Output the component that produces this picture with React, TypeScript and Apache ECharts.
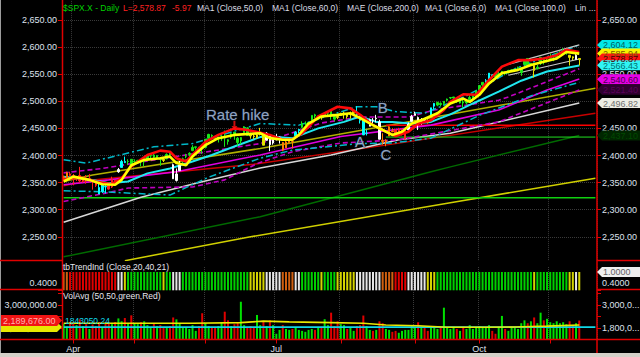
import React, { useEffect, useRef } from 'react';
import * as echarts from 'echarts';

// ---------- axis / categories ----------
const SLOTS = 166; // trading-day slots (161 bars + right padding)
const CATEGORIES = Array.from({ length: SLOTS }, (_, i) => String(i));
const MONTH_STARTS = [3, 22, 44, 66, 86, 109, 129, 151];
const QUARTER_LABELS: Record<number, string> = { 3: 'Apr', 66: 'Jul', 129: 'Oct' };

// ---------- price bars ($SPX.X daily, Mar 29 .. Nov 14) ----------
const OPEN = [2357,2359,2366,2363,2357,2363,2353,2356,2358,2353,2352,2341,2333,2343,2347,2342,2354,2370,2378,2389,2389,2393,2389,2390,2389,2389,2392,2400,2401,2397,2393,2393,2394,2405,2383,2354,2372,2388,2398,2402,2409,2415,2414,2415,2415,2432,2437,2434,2432,2432,2436,2426,2434,2443,2424,2427,2442,2451,2439,2436,2433,2443,2437,2428,2437,2430,2431,2430,2424,2414,2424,2426,2436,2446,2452,2459,2455,2464,2475,2468,2473,2472,2479,2482,2467,2472,2474,2478,2477,2476,2478,2480,2465,2465,2441,2454,2465,2469,2462,2428,2425,2436,2445,2447,2447,2447,2431,2447,2463,2474,2470,2463,2468,2462,2474,2491,2493,2494,2496,2502,2506,2506,2505,2497,2499,2501,2503,2504,2511,2521,2530,2534,2540,2547,2551,2548,2551,2552,2557,2556,2558,2563,2553,2568,2579,2570,2566,2563,2570,2577,2575,2583,2577,2581,2588,2592,2590,2581,2580,2577,2577];
const HIGH = [2363,2370,2370,2366,2362,2379,2361,2364,2366,2356,2353,2348,2349,2345,2350,2361,2355,2377,2392,2398,2393,2393,2393,2392,2390,2391,2399,2404,2404,2400,2395,2395,2404,2405,2385,2376,2390,2396,2403,2406,2419,2416,2416,2415,2430,2440,2439,2436,2435,2439,2446,2430,2441,2443,2434,2434,2454,2452,2442,2441,2442,2451,2441,2443,2437,2430,2440,2435,2425,2427,2432,2430,2445,2449,2463,2463,2461,2474,2477,2473,2474,2479,2481,2485,2473,2474,2479,2481,2477,2481,2481,2491,2475,2466,2448,2468,2469,2475,2466,2441,2430,2454,2450,2449,2451,2450,2449,2461,2475,2481,2472,2469,2469,2467,2488,2497,2499,2498,2500,2505,2508,2508,2507,2503,2503,2503,2511,2511,2520,2530,2535,2541,2552,2550,2552,2555,2556,2555,2558,2559,2561,2564,2563,2576,2579,2570,2567,2567,2582,2580,2578,2588,2582,2588,2593,2598,2595,2585,2583,2587,2579];
const LOW = [2354,2358,2361,2345,2353,2350,2350,2348,2352,2337,2342,2329,2331,2330,2337,2340,2345,2368,2378,2386,2383,2382,2383,2386,2380,2380,2390,2393,2393,2393,2381,2388,2393,2396,2357,2352,2372,2386,2395,2396,2408,2411,2408,2403,2413,2427,2434,2428,2424,2427,2416,2420,2431,2429,2418,2421,2442,2437,2431,2430,2431,2437,2419,2428,2408,2420,2428,2422,2408,2414,2422,2413,2436,2441,2450,2456,2452,2464,2468,2465,2466,2472,2474,2466,2463,2467,2473,2468,2468,2468,2476,2471,2459,2438,2437,2454,2458,2461,2430,2420,2417,2436,2443,2436,2442,2437,2429,2444,2463,2474,2447,2457,2462,2459,2474,2485,2491,2491,2493,2500,2504,2497,2497,2496,2489,2494,2497,2503,2508,2520,2528,2533,2538,2545,2544,2543,2548,2548,2551,2554,2555,2559,2547,2566,2564,2565,2544,2559,2567,2568,2572,2578,2574,2577,2586,2585,2586,2566,2576,2577,2566];
const CLOSE = [2361,2368,2363,2359,2360,2353,2357,2356,2357,2354,2345,2329,2349,2342,2338,2356,2349,2374,2389,2387,2389,2384,2388,2391,2388,2390,2399,2399,2397,2400,2394,2391,2402,2401,2357,2366,2382,2394,2398,2404,2415,2416,2413,2412,2430,2439,2436,2429,2433,2434,2432,2429,2440,2438,2432,2433,2453,2437,2436,2435,2438,2439,2419,2441,2420,2423,2429,2433,2410,2425,2427,2426,2443,2448,2459,2459,2461,2474,2473,2473,2470,2477,2478,2475,2472,2470,2476,2478,2472,2477,2481,2475,2474,2438,2441,2466,2465,2468,2430,2426,2428,2453,2444,2439,2443,2444,2446,2458,2472,2477,2458,2466,2465,2461,2488,2496,2498,2496,2500,2504,2507,2508,2501,2502,2497,2497,2507,2510,2519,2529,2535,2538,2552,2549,2545,2551,2555,2551,2553,2558,2559,2561,2562,2575,2565,2569,2557,2560,2581,2573,2575,2579,2580,2588,2591,2591,2594,2585,2582,2585,2579];

// trend paint-bar colour runs (tbTrendInd), one letter per bar
const TREND_RUNS: [string, number][] = [['o',2],['r',15],['w',2],['y',1],['g',11],['y',1],['g',2],['w',3],['g',21],['y',5],['w',5],['o',4],['w',2],['g',6],['y',1],['g',4],['y',6],['w',8],['o',4],['r',4],['w',6],['y',3],['g',30],['y',1],['g',10],['y',2],['w',1],['y',1]];
const CYAN_BARS = [11,12,13,18,19,72,73,91,92,93,94,114,115,131,132,133];

// volume (thousands)
const VOLUME_K = [2010,1880,2100,2080,1950,2250,1900,2000,1750,1980,1900,2100,1850,2050,2120,2000,2110,2300,2150,2320,2050,2460,2050,2000,2100,2150,1950,1850,2050,1900,1950,1850,1800,1900,2350,2250,2050,1800,1850,1750,1950,1650,1900,2570,2050,1900,1800,1850,1900,2100,2650,2200,1900,2000,2100,3170,1950,1850,1900,1850,2480,1950,2150,1900,2200,1950,1500,1700,1950,1750,1700,1750,1850,1700,1650,1600,1700,1750,1700,1800,1850,2260,1950,2600,1900,2150,2000,1950,1750,1800,1650,1900,1950,2450,1900,1700,1650,1700,2150,2050,1750,1700,1600,1650,1550,1650,1700,1700,1950,1800,2100,1850,1800,1650,1900,1850,1750,1800,2860,1800,1750,1850,1750,1650,1800,1750,1950,1750,1850,1900,1800,1850,1950,1650,1500,1800,2430,1750,1650,1800,1850,1750,2050,2200,2050,2150,2350,2050,2600,2200,2280,2100,2050,2150,2050,2100,2000,2150,1900,2050,2190];
const VOL_AVG_K: [number, number][] = [[0,2050],[40,2050],[55,2080],[62,2160],[70,2120],[83,2080],[93,2050],[100,1960],[110,1920],[119,1840],[131,1840],[140,1850],[150,1900],[160,1960]];
const VOL_REF_LEVEL = 1843050.24;

// ---------- indicator lines: [bar index, value] ----------
const MA_FAST_YELLOW: [number, number][] = [[0,2352],[3,2361],[8,2355],[12,2347],[16,2346],[18,2355],[21,2382],[25,2392],[30,2395],[33,2398],[35,2386],[38,2382],[40,2398],[44,2419],[48,2432],[53,2438],[61,2441],[64,2432],[68,2429],[71,2429],[73,2438],[76,2459],[80,2472],[85,2475],[89,2478],[92,2469],[96,2456],[99,2447],[102,2438],[105,2444],[108,2459],[111,2465],[116,2478],[120,2496],[124,2505],[126,2499],[129,2512],[132,2533],[136,2552],[141,2558],[145,2567],[149,2573],[153,2579],[156,2591],[160,2588]];
const MA_FAST_RED: [number, number][] = [[0,2356],[5,2360],[10,2352],[15,2347],[18,2358],[21,2380],[26,2401],[30,2409],[33,2407],[35,2395],[38,2389],[40,2401],[44,2425],[48,2438],[53,2450],[57,2447],[61,2442],[64,2438],[68,2429],[71,2430],[74,2441],[79,2472],[85,2490],[89,2487],[92,2475],[96,2456],[100,2444],[103,2436],[107,2444],[110,2459],[114,2465],[118,2484],[120,2499],[124,2513],[128,2512],[132,2539],[136,2564],[141,2576],[145,2576],[149,2579],[153,2585],[156,2595],[160,2591]];
const MA_CYAN: [number, number][] = [[0,2361],[9,2355],[14,2349],[20,2352],[26,2367],[33,2376],[40,2389],[46,2401],[54,2419],[61,2434],[64,2435],[71,2432],[79,2450],[87,2462],[92,2472],[97,2462],[102,2462],[108,2459],[114,2462],[120,2476],[127,2496],[135,2518],[142,2538],[150,2555],[160,2566]];
const CYAN_UPPER: [number, number][] = [[0,2392],[7,2386],[28,2416],[40,2422],[61,2459],[73,2456],[91,2490],[97,2490],[103,2481],[112,2478],[125,2510],[140,2560],[160,2604]];
const CYAN_LOWER: [number, number][] = [[0,2335],[12,2333],[33,2327],[45,2360],[61,2395],[71,2410],[92,2422],[102,2423],[114,2432],[129,2474],[145,2510],[160,2535]];
const MA_MAGENTA: [number, number][] = [[0,2346],[14,2355],[35,2370],[61,2401],[86,2435],[114,2456],[135,2484],[150,2521],[160,2541]];
const MAG_UPPER: [number, number][] = [[0,2368],[12,2376],[25,2389],[61,2422],[80,2460],[92,2471],[107,2471],[115,2484],[135,2502],[138,2508],[160,2560]];
const MAG_LOWER: [number, number][] = [[0,2315],[15,2333],[20,2340],[40,2342],[50,2355],[60,2385],[71,2407],[86,2423],[104,2429],[135,2462],[160,2521]];
const MA_WHITE: [number, number][] = [[0,2277],[24,2323],[42,2350],[61,2377],[83,2401],[104,2429],[120,2441],[135,2462],[160,2497]];
const TREND_DARKRED: [number, number][] = [[0,2344],[9,2355],[59,2384],[102,2421],[165,2478]];
const LINREG_OLIVE: [number, number][] = [[0,2352],[9,2364],[61,2413],[120,2476],[165,2524]];
const CHANNEL_DARKGREEN: [number, number][] = [[0,2213],[61,2287],[114,2370],[120,2379],[160,2437]];
const CHANNEL_YELLOW: [number, number][] = [[19,2206],[58,2250],[120,2313],[165,2358]];
const LEVEL_GREEN_LOW: [number, number][] = [[0,2322],[165,2322]];
const LEVEL_GREEN_HIGH: [number, number][] = [[100,2434],[165,2434]];
const LEVEL_RED: [number, number][] = [[100,2456],[165,2456]];
const LIN_UPPER: [number, number][] = [[138,2568],[160,2604]];
const LIN_LOWER: [number, number][] = [[138,2548],[160,2578]];

// annotations
const NOTE_TEXT = ['Rate hike', 'A', 'B', 'C'];
const NOTE_X = [53.5, 92, 99, 100];
const NOTE_Y = [2475, 2425, 2488, 2401];
const ARROW_AT: [number, number] = [52.5, 2456];

// right-hand value tags
const RIGHT_TAGS = [
  { v: 2604.1, bg: '#00e8e8', fg: '#006060', t: '2,604.12' },
  { v: 2588.0, bg: '#f4f400', fg: '#7a5a00', t: '2,585.94' },
  { v: 2578.87, bg: '#ff1414', fg: '#4a0000', t: '2,578.87' },
  { v: 2566.43, bg: '#30f4f4', fg: '#007070', t: '2,566.43' },
  { v: 2540.6, bg: '#e600e6', fg: '#4a004a', t: '2,540.60' },
  { v: 2521.4, bg: '#2e002e', fg: '#5a005a', t: '2,521.40' },
  { v: 2496.82, bg: '#ecece4', fg: '#707070', t: '2,496.82' },
  { v: 2437.1, bg: '#002600', fg: '#004a00', t: '2,437.10' },
];
const LAST_VOLUME = 2189676;

const TITLE_PARTS = [
  { x: 63, t: '$SPX.X - Daily', c: '#00d000' },
  { x: 123, t: 'L=2,578.87', c: '#ff2020' },
  { x: 172, t: '-5.97', c: '#ff2020' },
  { x: 197, t: 'MA1 (Close,50,0)', c: '#dcdce4' },
  { x: 272, t: 'MA1 (Close,60,0)', c: '#dcdce4' },
  { x: 347, t: 'MAE (Close,200,0)', c: '#dcdce4' },
  { x: 425, t: 'MA1 (Close,6,0)', c: '#dcdce4' },
  { x: 495, t: 'MA1 (Close,100,0)', c: '#dcdce4' },
  { x: 575, t: 'Lin ...', c: '#dcdce4' },
];

const TREND_COLORS: Record<string, string> = { g: '#00d000', w: '#e6e6e6', y: '#d4d400', o: '#d06010', r: '#e00000' };
const CANDLE_COLORS: Record<string, string> = { g: '#18e818', w: '#ffffff', y: '#e4e400', o: '#ff7a00', r: '#ff2020', c: '#00ffff' };

const FONT = 'Arial, "Liberation Sans", sans-serif';
const AXIS_TXT = '#dfe2ee';
const RED = '#e00000';
const GRID_DOT = '#3a3a3a';

const fmt2 = (v: number) => v.toLocaleString('en-US', { minimumFractionDigits: 2, maximumFractionDigits: 2 });

function trendLetters(): string[] {
  const out: string[] = [];
  TREND_RUNS.forEach(([c, n]) => { for (let k = 0; k < n; k++) out.push(c); });
  return out;
}

function buildOption() {
  const trend = trendLetters();
  const candles = OPEN.map((o, i) => {
    const key = CYAN_BARS.includes(i) ? 'c' : trend[i];
    const col = CANDLE_COLORS[key];
    return { value: [o, CLOSE[i], LOW[i], HIGH[i]], itemStyle: { color: col, color0: col, borderColor: col, borderColor0: col, borderWidth: 1 } };
  });
  const trendBars = trend.map((c) => ({ value: 1, itemStyle: { color: TREND_COLORS[c] } }));
  const volBars = VOLUME_K.map((v, i) => {
    const up = i === 0 ? CLOSE[0] >= OPEN[0] : CLOSE[i] >= CLOSE[i - 1];
    return { value: v * 1000, itemStyle: { color: up ? '#00e000' : '#e00000' } };
  });

  const line = (pts: [number, number][], color: string, width: number, type: any = 'solid', z = 2) => ({
    type: 'line', xAxisIndex: 0, yAxisIndex: 0, data: pts, showSymbol: false, symbol: 'none', silent: true,
    lineStyle: { color, width, type }, z,
  });

  const xAxis = (gi: number, bottom: boolean) => ({
    type: 'category', gridIndex: gi, data: CATEGORIES, boundaryGap: true,
    axisLine: { show: false },
    axisTick: bottom
      ? { show: true, interval: (i: number) => MONTH_STARTS.includes(i), alignWithLabel: true, length: 4, lineStyle: { color: RED } }
      : { show: false },
    axisLabel: bottom
      ? { show: true, interval: (i: number) => QUARTER_LABELS[i] !== undefined, formatter: (v: string) => QUARTER_LABELS[+v] || '', color: AXIS_TXT, fontSize: 9, fontFamily: FONT, margin: 5 }
      : { show: false },
    splitLine: { show: true, interval: (i: number) => MONTH_STARTS.includes(i), lineStyle: { color: GRID_DOT, type: 'dotted', width: 1 } },
  });

  const priceAxis = (pos: string) => ({
    type: 'value', gridIndex: 0, position: pos, min: 2200, max: 2700, interval: 50,
    axisLine: { show: false },
    axisTick: { show: true, length: 4, lineStyle: { color: RED } },
    axisLabel: { show: true, margin: 5, color: AXIS_TXT, fontSize: 9, fontFamily: FONT, formatter: (v: number) => (v < 2250 || v > 2650 ? '' : fmt2(v)) },
    splitLine: { show: pos === 'left', lineStyle: { color: GRID_DOT, type: 'dotted', width: 1 } },
  });
  const trendAxis = (pos: string) => ({
    type: 'value', gridIndex: 1, position: pos, min: 0, max: 1.6, interval: 0.2,
    axisLine: { show: false }, axisTick: { show: false },
    axisLabel: { show: true, margin: 5, color: AXIS_TXT, fontSize: 9, fontFamily: FONT, formatter: (v: number) => (Math.abs(v - 0.4) < 1e-6 ? '0.4000' : '') },
    splitLine: { show: false },
  });
  const volAxis = (pos: string) => ({
    type: 'value', gridIndex: 2, position: pos, min: 1200000, max: 3782500, interval: 600000,
    axisLine: { show: false },
    axisTick: { show: true, length: 4, lineStyle: { color: RED } },
    axisLabel: {
      show: true, margin: 5, color: AXIS_TXT, fontSize: 9, fontFamily: FONT,
      formatter: (v: number) => {
        if (v !== 1800000 && v !== 3000000) return '';
        const s = fmt2(v);
        return pos === 'left' ? s : s.slice(0, 7) + '...';
      },
    },
    splitLine: { show: false },
  });

  const gridBase = { left: 62, right: 43, containLabel: false, outerBoundsMode: 'none' };

  return {
    animation: false,
    backgroundColor: '#000000',
    textStyle: { fontFamily: FONT },
    grid: [
      { ...gridBase, top: -7.1, height: 271 },
      { ...gridBase, top: 261, height: 29.3 },
      { ...gridBase, top: 290, height: 49.5 },
    ],
    xAxis: [xAxis(0, false), xAxis(1, false), xAxis(2, true)],
    yAxis: [priceAxis('left'), priceAxis('right'), trendAxis('left'), trendAxis('right'), volAxis('left'), volAxis('right')],
    series: [
      line(CHANNEL_DARKGREEN, '#006a00', 1.5),
      line(CHANNEL_YELLOW, '#d0d000', 1.5),
      line(LEVEL_GREEN_LOW, '#10d010', 1.5),
      line(LINREG_OLIVE, '#b0b000', 1.5),
      line(TREND_DARKRED, '#c80000', 1.5),
      line(MA_WHITE, '#d8d8d8', 1.5),
      line(LEVEL_RED, '#ff0000', 1.5),
      line(LEVEL_GREEN_HIGH, '#20e020', 1),
      line(MA_MAGENTA, '#e000e0', 1.6),
      line(MAG_UPPER, '#c000c0', 1.6, [5, 3]),
      line(MAG_LOWER, '#c000c0', 1.6, [5, 3]),
      line(CYAN_UPPER, '#00b8c8', 1.5, [7, 3, 2, 3]),
      line(CYAN_LOWER, '#00b8c8', 1.5, [7, 3, 2, 3]),
      line(LIN_UPPER, '#c8c8c8', 1.2),
      line(LIN_LOWER, '#c8c8c8', 1.2),
      line(MA_CYAN, '#20e8f0', 2),
      {
        type: 'candlestick', xAxisIndex: 0, yAxisIndex: 0, data: candles, barWidth: 2, silent: true, z: 3,
      },
      line(MA_FAST_RED, '#ff0a0a', 2.6, 'solid', 4),
      line(MA_FAST_YELLOW, '#ffff00', 2.6, 'solid', 4),
      {
        type: 'scatter', xAxisIndex: 0, yAxisIndex: 0, symbolSize: 1, silent: true, z: 6,
        itemStyle: { color: 'rgba(0,0,0,0)' },
        data: NOTE_TEXT.map((t, k) => ({
          value: [NOTE_X[k], NOTE_Y[k]],
          label: { show: true, position: 'inside', formatter: t, color: '#b4c8e6', fontSize: 15, fontFamily: FONT, textBorderColor: '#1c2c48', textBorderWidth: 1 },
        })),
      },
      {
        type: 'scatter', xAxisIndex: 0, yAxisIndex: 0, silent: true, z: 6,
        symbol: 'path://M2,0 L4,0 L4,6 L6,6 L3,10 L0,6 L2,6 Z', symbolSize: [6, 9],
        itemStyle: { color: '#ff1010' },
        data: [ARROW_AT],
      },
      { type: 'bar', xAxisIndex: 1, yAxisIndex: 2, data: trendBars, barWidth: 2, silent: true },
      { type: 'bar', xAxisIndex: 2, yAxisIndex: 4, data: volBars, barWidth: 2, silent: true },
      {
        type: 'line', xAxisIndex: 2, yAxisIndex: 4, data: [[0, VOL_REF_LEVEL], [165, VOL_REF_LEVEL]],
        showSymbol: false, symbol: 'none', silent: true, lineStyle: { color: '#10d8e8', width: 1.6 }, z: 3,
      },
      {
        type: 'line', xAxisIndex: 2, yAxisIndex: 4, data: VOL_AVG_K.map(([i, v]) => [i, v * 1000]),
        showSymbol: false, symbol: 'none', silent: true, lineStyle: { color: '#e8e800', width: 1.6 }, z: 4,
      },
    ],
  };
}

function buildGraphics(chart: any) {
  const py = (axis: number, v: number) => chart.convertToPixel({ yAxisIndex: axis }, v) as number;
  const g: any[] = [];
  const Z = 100;
  const txt = (x: number, y: number, text: string, fill: string, size = 9, align = 'left') => ({
    type: 'text', x, y, z: Z + 5, silent: true,
    style: { text, fill, fontSize: size, fontFamily: FONT, verticalAlign: 'middle', align },
  });
  const hline = (x1: number, x2: number, y: number, color = RED, w = 1.5) => ({
    type: 'line', z: Z + 2, silent: true, shape: { x1, y1: y, x2, y2: y }, style: { stroke: color, lineWidth: w },
  });
  const vline = (x: number, y1: number, y2: number, color = RED, w = 1.5) => ({
    type: 'line', z: Z + 2, silent: true, shape: { x1: x, y1, x2: x, y2 }, style: { stroke: color, lineWidth: w },
  });

  // cover the small overflow of the price panel below its frame
  g.push({ type: 'rect', z: Z, silent: true, shape: { x: 0, y: 261, width: 640, height: 5 }, style: { fill: '#000' } });
  // window chrome
  g.push({ type: 'rect', z: Z, silent: true, shape: { x: 0, y: 353, width: 640, height: 4 }, style: { fill: '#d4d0c8' } });
  g.push({ type: 'rect', z: Z, silent: true, shape: { x: 0, y: 0, width: 1, height: 353 }, style: { fill: '#9c9c9c' } });
  // red frame
  g.push(vline(62.5, 0, 340));
  g.push(vline(597, 0, 353));
  g.push(hline(0, 62.5, 260.5));
  g.push(hline(597, 640, 260.5));
  g.push(hline(0, 62.5, 289.5));
  g.push(hline(597, 640, 289.5));
  g.push(hline(0, 640, 339.5));

  // title row
  TITLE_PARTS.forEach((p) => g.push(txt(p.x, 8, p.t, p.c, 8.5)));
  g.push(txt(63, 267, 'tbTrendInd (Close,20,40,21)', '#e6e6ee', 8.5));
  g.push(txt(63, 296, 'VolAvg (50,50,green,Red)', '#e6e6ee', 8.5));

  // right price tags
  RIGHT_TAGS.forEach((tag) => {
    const y = py(0, tag.v);
    g.push({
      type: 'polygon', z: Z + 3, silent: true,
      shape: { points: [[597, y], [602, y - 5], [640, y - 5], [640, y + 5], [602, y + 5]] },
      style: { fill: tag.bg },
    });
    g.push(txt(603, y + 0.5, tag.t, tag.fg));
  });

  // trend panel tag
  const yT = py(3, 1.0);
  g.push({
    type: 'polygon', z: Z + 3, silent: true,
    shape: { points: [[597, yT], [602, yT - 5], [640, yT - 5], [640, yT + 5], [602, yT + 5]] },
    style: { fill: '#eeeeee' },
  });
  g.push(txt(603, yT + 0.5, '1.0000', '#606060'));

  // volume panel tags (left)
  const yAvg = py(4, VOL_AVG_K[VOL_AVG_K.length - 1][1] * 1000) + 2;
  g.push({
    type: 'polygon', z: Z + 3, silent: true,
    shape: { points: [[1, yAvg - 5], [57, yAvg - 5], [62, yAvg], [57, yAvg + 5], [1, yAvg + 5]] },
    style: { fill: '#e8e800' },
  });
  const yV = py(4, LAST_VOLUME);
  g.push({
    type: 'polygon', z: Z + 4, silent: true,
    shape: { points: [[1, yV - 5.5], [57, yV - 5.5], [62, yV], [57, yV + 5.5], [1, yV + 5.5]] },
    style: { fill: '#f01414' },
  });
  g.push({ ...txt(3, yV + 0.5, fmt2(LAST_VOLUME), '#ffb0b0'), z: Z + 6 });
  g.push(txt(65, py(4, VOL_REF_LEVEL) - 6, VOL_REF_LEVEL.toFixed(2), '#10d8e8', 8.5));

  return g;
}

export default function App() {
  const ref = useRef<HTMLDivElement>(null);
  useEffect(() => {
    const el = ref.current;
    if (!el) return;
    const chart = echarts.init(el, null, { renderer: 'svg' });
    chart.setOption(buildOption() as any);
    chart.setOption({ graphic: buildGraphics(chart) } as any);
    return () => chart.dispose();
  }, []);
  return <div ref={ref} style={{ position: 'absolute', left: 0, top: 0, width: 640, height: 357, background: '#000' }} />;
}
